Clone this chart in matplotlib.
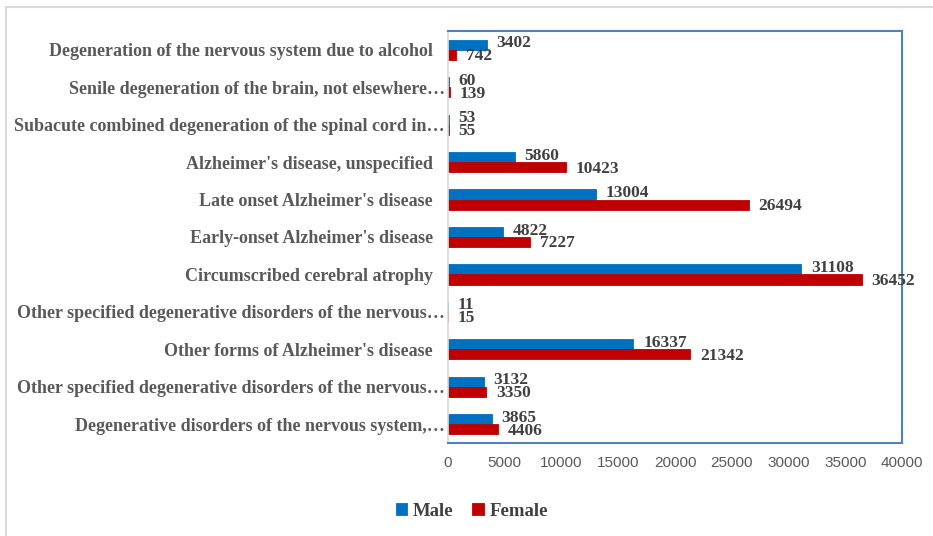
import matplotlib
matplotlib.use('Agg')
import matplotlib.pyplot as plt
import matplotlib.transforms as mtransforms
import numpy as np
from matplotlib.patches import Rectangle

# categories, top to bottom as in the chart
categories = ['Degeneration of the nervous system due to alcohol',
              'Senile degeneration of the brain, not elsewhere\u2026',
              'Subacute combined degeneration of the spinal cord in\u2026',
              "Alzheimer's disease, unspecified",
              "Late onset Alzheimer's disease",
              "Early-onset Alzheimer's disease",
              'Circumscribed cerebral atrophy',
              'Other specified degenerative disorders of the nervous\u2026',
              "Other forms of Alzheimer's disease",
              'Other specified degenerative disorders of the nervous\u2026',
              'Degenerative disorders of the nervous system,\u2026']
male = [3402, 60, 53, 5860, 13004, 4822, 31108, 11, 16337, 3132, 3865]
female = [742, 139, 55, 10423, 26494, 7227, 36452, 15, 21342, 3350, 4406]
xticks = [0, 5000, 10000, 15000, 20000, 25000, 30000, 35000, 40000]

serif = ['Liberation Serif', 'DejaVu Serif']
narrow = ['Liberation Sans Narrow', 'Liberation Sans', 'DejaVu Sans']

fig = plt.figure(figsize=(9.33, 5.36), dpi=100)
ax = fig.add_axes([0.4802, 0.1735, 0.4866, 0.7687])

# outer light grey frame
fig.patches.append(Rectangle((6 / 933, -0.05), 1.1, 1 - 7 / 536 + 0.05, transform=fig.transFigure,
                             fill=False, edgecolor='#d9d9d9', linewidth=1.5))

y = np.arange(len(categories))
h = 0.27
ax.barh(y - h / 2, male, h, color='#0070C0', edgecolor='#0070C0', linewidth=0.6, label='Male')
ax.barh(y + h / 2, female, h, color='#C00000', edgecolor='#C00000', linewidth=0.6, label='Female')

# value labels
for i in range(len(categories)):
    ax.annotate(str(male[i]), (male[i], y[i] - h / 2), xytext=(7, 1), textcoords='offset points',
                ha='left', va='center', fontsize=12.5, fontweight='bold', family=serif, color='#404040')
    ax.annotate(str(female[i]), (female[i], y[i] + h / 2), xytext=(7, -1), textcoords='offset points',
                ha='left', va='center', fontsize=12.5, fontweight='bold', family=serif, color='#404040')

ax.set_ylim(len(categories) - 0.5, -0.5)
ax.set_xlim(0, 40000)
ax.set_yticks(y)
ax.set_yticklabels(categories, fontsize=13, fontweight='bold', family=serif, color='#595959')
ax.set_xticks(xticks)
ax.set_xticklabels([str(t) for t in xticks], fontsize=11, family=narrow, color='#595959')
ax.tick_params(axis='y', length=0, pad=11)
ax.tick_params(axis='x', length=0, pad=9)

# truncated labels sit closer to the axis, like in Excel
shift = mtransforms.ScaledTranslation(12 / 100, 0, fig.dpi_scale_trans)
for lab in ax.get_yticklabels():
    if lab.get_text().endswith('\u2026'):
        lab.set_transform(lab.get_transform() + shift)

# frame: blue box, grey left axis line
for s in ['top', 'right', 'bottom']:
    ax.spines[s].set_color('#4F81BD')
    ax.spines[s].set_linewidth(1.5)
ax.spines['left'].set_color('#d9d9d9')
ax.spines['left'].set_linewidth(1.2)

leg = fig.legend(loc='center', bbox_to_anchor=(472 / 933, 1 - 511 / 536), ncol=2, frameon=False,
                 handlelength=0.6, handleheight=0.6, handletextpad=0.3, columnspacing=1.0,
                 prop={'family': serif, 'weight': 'bold', 'size': 13.5})
for t in leg.get_texts():
    t.set_color('#404040')

plt.savefig('out.png', dpi=100)
